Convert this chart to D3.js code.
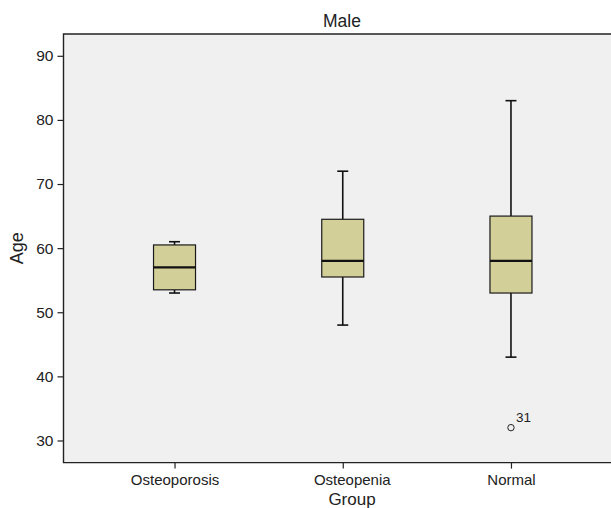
<!DOCTYPE html>
<html>
<head>
<meta charset="utf-8">
<script src="https://cdn.jsdelivr.net/npm/d3@7"></script>
<style>
  body { margin: 0; background: #fff; overflow: hidden; }
  svg { display: block; font-family: "Liberation Sans", Arial, Helvetica, sans-serif; }
  .tick text { fill: #222; }
</style>
</head>
<body>
<script>
//categories and box statistics
const groups = ['Osteoporosis', 'Osteopenia', 'Normal']
const lowWhisker = [53, 48, 43]
const q1 = [53.5, 55.5, 53]
const median = [57, 58, 58]
const q3 = [60.5, 64.5, 65]
const highWhisker = [61, 72, 83]

//outlier points
const outlierGroups = ['Normal']
const outlierValues = [32]
const outlierLabels = ['31']

const yTicks = [30, 40, 50, 60, 70, 80, 90]

const width = 611
const height = 508

//plot frame (right side runs past the picture edge)
const frame = { left: 63.5, right: 622, top: 34, bottom: 462.6 }

const boxFill = '#d3cf98'
const panelFill = '#f0f0f0'
const boxWidth = 42
const capWidth = 11

const data = groups.map((g, i) => ({
  group: g,
  low: lowWhisker[i],
  q1: q1[i],
  med: median[i],
  q3: q3[i],
  high: highWhisker[i]
}))

const svg = d3.select('body').append('svg')
  .attr('width', width)
  .attr('height', height)

//=================SCALES===================
const xScale = d3.scalePoint()
  .domain(groups)
  .range([frame.left, frame.right])
  .padding(0.66)

const yScale = d3.scaleLinear()
  .domain([26.55, 93.4])
  .range([frame.bottom, frame.top])

//panel background
svg.append('rect')
  .attr('x', frame.left)
  .attr('y', frame.top)
  .attr('width', frame.right - frame.left)
  .attr('height', frame.bottom - frame.top)
  .attr('fill', panelFill)

//================= AXES =====================
const yAxis = d3.axisLeft(yScale)
  .tickValues(yTicks)
  .tickSize(6)
  .tickPadding(4)

const yAxisGroup = svg.append('g')
  .attr('transform', `translate(${frame.left},0)`)
  .call(yAxis)
yAxisGroup.select('.domain').remove()
yAxisGroup.selectAll('.tick line').attr('stroke', '#222').attr('stroke-width', 1.2)
yAxisGroup.selectAll('.tick text').style('font-size', '15.5px')

const xAxis = d3.axisBottom(xScale)
  .tickSize(6)
  .tickPadding(6)

const xAxisGroup = svg.append('g')
  .attr('transform', `translate(0,${frame.bottom})`)
  .call(xAxis)
xAxisGroup.select('.domain').remove()
xAxisGroup.selectAll('.tick line').attr('stroke', '#222').attr('stroke-width', 1.2)
xAxisGroup.selectAll('.tick text')
  .style('font-size', '15px')
  .attr('dx', d => d === 'Osteopenia' ? 9 : 0)

//frame lines: top, left, bottom
svg.append('path')
  .attr('d', `M${frame.right},${frame.top}H${frame.left}V${frame.bottom}H${frame.right}`)
  .attr('fill', 'none')
  .attr('stroke', '#222')
  .attr('stroke-width', 1.4)

//=================== BOXES ==================
const box = svg.selectAll('.box')
  .data(data)
  .enter()
  .append('g')
  .attr('class', 'box')
  .attr('transform', d => `translate(${xScale(d.group)},0)`)

//whiskers
box.append('line')
  .attr('x1', 0).attr('x2', 0)
  .attr('y1', d => yScale(d.high))
  .attr('y2', d => yScale(d.q3))
  .attr('stroke', '#111').attr('stroke-width', 1.6)
box.append('line')
  .attr('x1', 0).attr('x2', 0)
  .attr('y1', d => yScale(d.q1))
  .attr('y2', d => yScale(d.low))
  .attr('stroke', '#111').attr('stroke-width', 1.6)

//whisker caps
box.append('line')
  .attr('x1', -capWidth / 2).attr('x2', capWidth / 2)
  .attr('y1', d => yScale(d.high)).attr('y2', d => yScale(d.high))
  .attr('stroke', '#111').attr('stroke-width', 1.6)
box.append('line')
  .attr('x1', -capWidth / 2).attr('x2', capWidth / 2)
  .attr('y1', d => yScale(d.low)).attr('y2', d => yScale(d.low))
  .attr('stroke', '#111').attr('stroke-width', 1.6)

//the box
box.append('rect')
  .attr('x', -boxWidth / 2)
  .attr('width', boxWidth)
  .attr('y', d => yScale(d.q3))
  .attr('height', d => yScale(d.q1) - yScale(d.q3))
  .attr('fill', boxFill)
  .attr('stroke', '#1a1a1a')
  .attr('stroke-width', 1.2)

//median
box.append('line')
  .attr('x1', -boxWidth / 2).attr('x2', boxWidth / 2)
  .attr('y1', d => yScale(d.med)).attr('y2', d => yScale(d.med))
  .attr('stroke', '#111').attr('stroke-width', 2.2)

//=================== OUTLIERS ==================
const outliers = outlierGroups.map((g, i) => ({ group: g, value: outlierValues[i], label: outlierLabels[i] }))

svg.selectAll('.outlier')
  .data(outliers)
  .enter()
  .append('circle')
  .attr('class', 'outlier')
  .attr('cx', d => xScale(d.group))
  .attr('cy', d => yScale(d.value))
  .attr('r', 3.2)
  .attr('fill', 'none')
  .attr('stroke', '#222')
  .attr('stroke-width', 1)

svg.selectAll('.outlier-label')
  .data(outliers)
  .enter()
  .append('text')
  .attr('class', 'outlier-label')
  .attr('x', d => xScale(d.group) + 5)
  .attr('y', d => yScale(d.value) - 6)
  .style('font-size', '13.5px')
  .attr('fill', '#222')
  .text(d => d.label)

//=================== TITLES ==================
svg.append('text')
  .attr('x', 342)
  .attr('y', 26.5)
  .attr('text-anchor', 'middle')
  .style('font-size', '17.5px')
  .attr('fill', '#222')
  .text('Male')

svg.append('text')
  .attr('x', 352)
  .attr('y', 505)
  .attr('text-anchor', 'middle')
  .style('font-size', '17px')
  .attr('fill', '#222')
  .text('Group')

svg.append('text')
  .attr('transform', `translate(23,${(frame.top + frame.bottom) / 2}) rotate(-90)`)
  .attr('text-anchor', 'middle')
  .style('font-size', '18px')
  .attr('fill', '#222')
  .text('Age')
</script>
</body>
</html>
